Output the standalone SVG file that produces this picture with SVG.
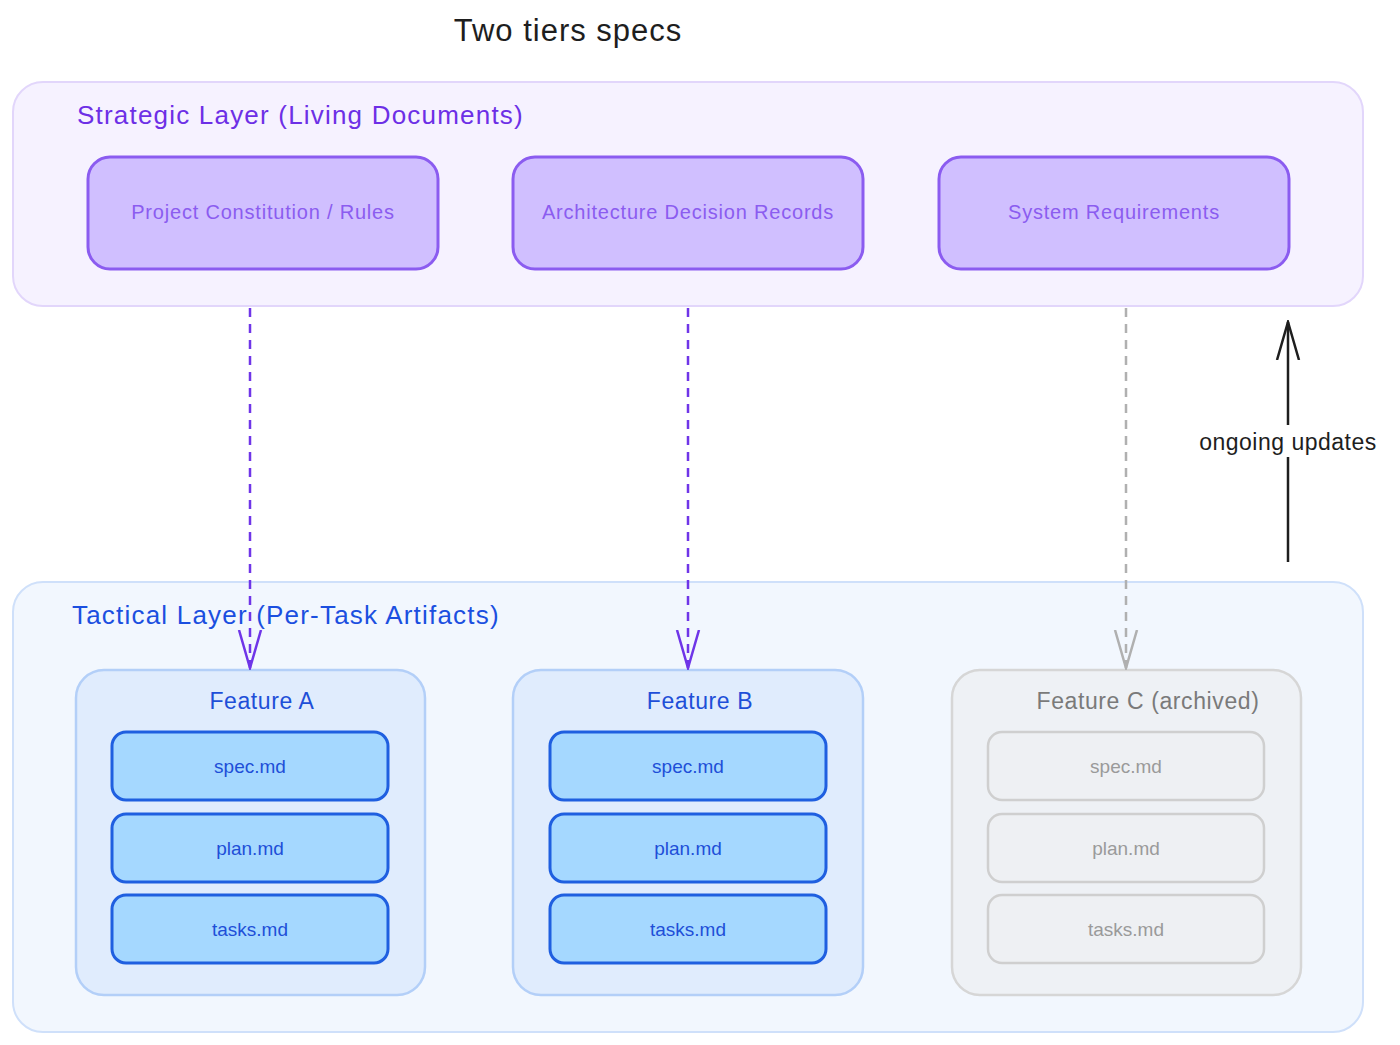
<svg xmlns="http://www.w3.org/2000/svg" width="1400" height="1045" viewBox="0 0 1400 1045">
<defs>
<style>
text{font-family:"Liberation Sans",Arial,sans-serif;text-anchor:middle}
.s{fill:#d0bfff;stroke:#8b5cf0;stroke-width:3}
.st{fill:#8b5cf0;font-size:20px;letter-spacing:0.8px}
.f{fill:#e0ecfd;stroke:#b3cff8;stroke-width:2.5}
.ft{fill:#1e4fd8;font-size:23px;letter-spacing:0.6px}
.i{fill:#a5d8ff;stroke:#1f5fe0;stroke-width:3}
.it{fill:#1e4fd8;font-size:19px}
.fg{fill:#eef1f5;stroke:#d6d6d6;stroke-width:2.5}
.ig{fill:#eef0f3;stroke:#cfcfcf;stroke-width:2.5}
.gt{fill:#9a9a9a}
.lt{font-size:26px;letter-spacing:1.2px;text-anchor:start}
</style>
<marker id="ap" viewBox="0 0 40 40" refX="38" refY="20" markerWidth="40" markerHeight="40" markerUnits="userSpaceOnUse" orient="auto"><path d="M0,9 L38,20 L0,31" fill="none" stroke="#6f35e8" stroke-width="2.5"/></marker>
<marker id="ag" viewBox="0 0 40 40" refX="38" refY="20" markerWidth="40" markerHeight="40" markerUnits="userSpaceOnUse" orient="auto"><path d="M0,9 L38,20 L0,31" fill="none" stroke="#b0b0b0" stroke-width="2.5"/></marker>
<marker id="ab" viewBox="0 0 40 40" refX="38" refY="20" markerWidth="40" markerHeight="40" markerUnits="userSpaceOnUse" orient="auto"><path d="M0,9 L38,20 L0,31" fill="none" stroke="#1e1e1e" stroke-width="2.5"/></marker>
</defs>
<rect width="1400" height="1045" fill="#ffffff"/>
<text x="568" y="41" font-size="31" fill="#1e1e1e" letter-spacing="1">Two tiers specs</text>
<g id="strategic">
<rect x="13" y="82" width="1350" height="224" rx="30" fill="#f6f2ff" stroke="#e2d6fb" stroke-width="2"/>
<text class="lt" x="77" y="124" fill="#6d2fe6">Strategic Layer (Living Documents)</text>
</g>
<g id="constitution"><rect class="s" x="88" y="157" width="350" height="112" rx="22"/><text class="st" x="263" y="219">Project Constitution / Rules</text></g>
<g id="adr"><rect class="s" x="513" y="157" width="350" height="112" rx="22"/><text class="st" x="688" y="219">Architecture Decision Records</text></g>
<g id="sysreq"><rect class="s" x="939" y="157" width="350" height="112" rx="22"/><text class="st" x="1114" y="219">System Requirements</text></g>
<g id="tactical">
<rect x="13" y="582" width="1350" height="450" rx="30" fill="#f2f7fe" stroke="#cfe0fa" stroke-width="2"/>
<text class="lt" x="72" y="624" fill="#1b4fe0">Tactical Layer (Per-Task Artifacts)</text>
</g>
<g id="featureA">
<rect class="f" x="76" y="670" width="349" height="325" rx="28"/><text class="ft" x="262" y="709">Feature A</text>
<rect class="i" x="112" y="732" width="276" height="68" rx="14"/><text class="it" x="250" y="773">spec.md</text>
<rect class="i" x="112" y="814" width="276" height="68" rx="14"/><text class="it" x="250" y="855">plan.md</text>
<rect class="i" x="112" y="895" width="276" height="68" rx="14"/><text class="it" x="250" y="936">tasks.md</text>
</g>
<g id="featureB">
<rect class="f" x="513" y="670" width="350" height="325" rx="28"/><text class="ft" x="700" y="709">Feature B</text>
<rect class="i" x="550" y="732" width="276" height="68" rx="14"/><text class="it" x="688" y="773">spec.md</text>
<rect class="i" x="550" y="814" width="276" height="68" rx="14"/><text class="it" x="688" y="855">plan.md</text>
<rect class="i" x="550" y="895" width="276" height="68" rx="14"/><text class="it" x="688" y="936">tasks.md</text>
</g>
<g id="featureC">
<rect class="fg" x="952" y="670" width="349" height="325" rx="28"/><text class="ft" x="1148" y="709" style="fill:#7a7a7a">Feature C (archived)</text>
<rect class="ig" x="988" y="732" width="276" height="68" rx="14"/><text class="it gt" x="1126" y="773">spec.md</text>
<rect class="ig" x="988" y="814" width="276" height="68" rx="14"/><text class="it gt" x="1126" y="855">plan.md</text>
<rect class="ig" x="988" y="895" width="276" height="68" rx="14"/><text class="it gt" x="1126" y="936">tasks.md</text>
</g>
<g id="connectors" fill="none" stroke-width="2.5">
<path d="M250,308 L250,668" stroke="#6f35e8" stroke-dasharray="9,7" marker-end="url(#ap)"/>
<path d="M688,308 L688,668" stroke="#6f35e8" stroke-dasharray="9,7" marker-end="url(#ap)"/>
<path d="M1126,308 L1126,668" stroke="#b0b0b0" stroke-dasharray="9,7" marker-end="url(#ag)"/>
<path d="M1288,562 L1288,322" stroke="#1e1e1e" marker-end="url(#ab)"/>
<rect x="1188" y="425" width="200" height="32" fill="#ffffff" stroke="none"/>
<text x="1288" y="450" font-size="23" fill="#1e1e1e" stroke="none" letter-spacing="0.5">ongoing updates</text>
</g>
</svg>
